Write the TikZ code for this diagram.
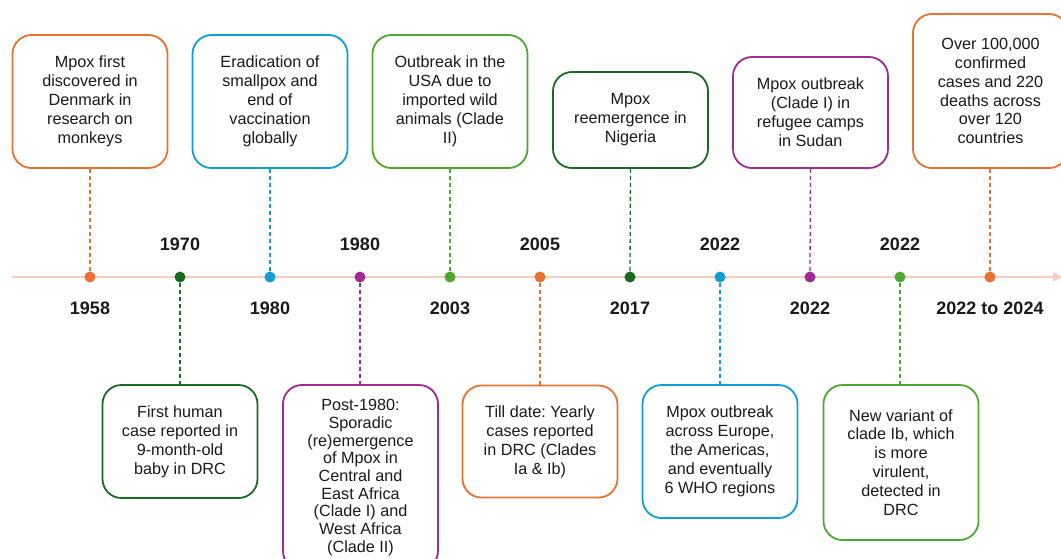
\documentclass[tikz,border=0pt]{standalone}
\usepackage{fontspec}
\setmainfont{Liberation Sans}
\usetikzlibrary{arrows.meta}
\definecolor{corange}{HTML}{E97132}
\definecolor{cblue}{HTML}{0F9ED5}
\definecolor{cgreen}{HTML}{4EA72E}
\definecolor{cdgreen}{HTML}{196B24}
\definecolor{cpurple}{HTML}{A02B93}
\definecolor{cline}{HTML}{F7CDBF}
\definecolor{ctext}{HTML}{1A1A1A}
\frenchspacing
\begin{document}
\begin{tikzpicture}[x=1pt,y=-1pt,
  box/.style={draw=#1, line width=1.8pt, rounded corners=19pt, fill=white,
    align=center, text=ctext, inner sep=0pt,
    font=\fontsize{16.2}{18.9}\selectfont, minimum width=155pt},
  dot/.style={circle, fill=#1, inner sep=0pt, minimum size=11pt},
  conn/.style={draw=#1, line width=1.3pt, dash pattern=on 4pt off 3pt},
  year/.style={font=\fontsize{18}{20}\selectfont\bfseries, text=ctext, inner sep=0pt}
]
\useasboundingbox (0,0) rectangle (1061,558);
\clip (0,0) rectangle (1061,558);
\fill[white] (0,0) rectangle (1061,558);

% timeline
\coordinate (t0) at (12,277);
\coordinate (t1) at (1062,277);
\draw[cline, line width=2pt, -{Triangle[length=9pt,width=9pt]}] (t0) -- (t1);

% dots
\node[dot=corange] (d1) at (90,277) {};
\node[dot=cdgreen] (d2) at (180,277) {};
\node[dot=cblue] (d3) at (270,277) {};
\node[dot=cpurple] (d4) at (360,277) {};
\node[dot=cgreen] (d5) at (450,277) {};
\node[dot=corange] (d6) at (540,277) {};
\node[dot=cdgreen] (d7) at (630,277) {};
\node[dot=cblue] (d8) at (720,277) {};
\node[dot=cpurple] (d9) at (810,277) {};
\node[dot=cgreen] (d10) at (900,277) {};
\node[dot=corange] (d11) at (990,277) {};

% years
\node[year] (y1) at (90,308) {1958};
\node[year] (y2) at (180,244) {1970};
\node[year] (y3) at (270,308) {1980};
\node[year] (y4) at (360,244) {1980};
\node[year] (y5) at (450,308) {2003};
\node[year] (y6) at (540,244) {2005};
\node[year] (y7) at (630,308) {2017};
\node[year] (y8) at (720,244) {2022};
\node[year] (y9) at (810,308) {2022};
\node[year] (y10) at (900,244) {2022};
\node[year] (y11) at (990,308) {2022 to 2024};

% top boxes
\node[box=corange, minimum height=133pt] (b1) at (90,101.5)
  {Mpox first\\discovered in\\Denmark in\\research on\\monkeys};
\node[box=cblue, minimum height=133pt] (b3) at (270,101.5)
  {Eradication of\\smallpox and\\end of\\vaccination\\globally};
\node[box=cgreen, minimum height=133pt] (b5) at (450,101.5)
  {Outbreak in the\\USA due to\\imported wild\\animals (Clade\\II)};
\node[box=cdgreen, minimum height=96pt] (b7) at (630.5,120)
  {Mpox\\reemergence in\\Nigeria};
\node[box=cpurple, minimum height=111pt] (b9) at (810.5,112.5)
  {Mpox outbreak\\(Clade I) in\\refugee camps\\in Sudan};
\node[box=corange, minimum height=154pt] (b11) at (990.5,91)
  {Over 100,000\\confirmed\\cases and 220\\deaths across\\over 120\\countries};

% bottom boxes
\node[box=cdgreen, minimum height=113pt] (b2) at (180,441.5)
  {First human\\case reported in\\9-month-old\\baby in DRC};
\node[box=cpurple, minimum height=185pt, font=\fontsize{16.2}{17.7}\selectfont] (b4) at (360.5,477.5)
  {Post-1980:\\Sporadic\\(re)emergence\\of Mpox in\\Central and\\East Africa\\(Clade I) and\\West Africa\\(Clade II)};
\node[box=corange, minimum height=112pt] (b6) at (540,441.5)
  {Till date: Yearly\\cases reported\\in DRC (Clades\\Ia \& Ib)};
\node[box=cblue, minimum height=133pt] (b8) at (720,451.5)
  {Mpox outbreak\\across Europe,\\the Americas,\\and eventually\\6 WHO regions};
\node[box=cgreen, minimum height=155pt] (b10) at (901,462.5)
  {New variant of\\clade Ib, which\\is more\\virulent,\\detected in\\DRC};

% connectors
\draw[conn=corange] (b1.south) -- (d1.north);
\draw[conn=cblue] (b3.south) -- (d3.north);
\draw[conn=cgreen] (b5.south) -- (d5.north);
\draw[conn=cdgreen] (b7.south) -- (d7.north);
\draw[conn=cpurple] (b9.south) -- (d9.north);
\draw[conn=corange] (b11.south -| d11) -- (d11.north);
\draw[conn=cdgreen] (d2.south) -- (b2.north);
\draw[conn=cpurple] (d4.south) -- (b4.north -| d4);
\draw[conn=corange] (d6.south) -- (b6.north);
\draw[conn=cblue] (d8.south) -- (b8.north);
\draw[conn=cgreen] (d10.south) -- (b10.north -| d10);
\end{tikzpicture}
\end{document}
